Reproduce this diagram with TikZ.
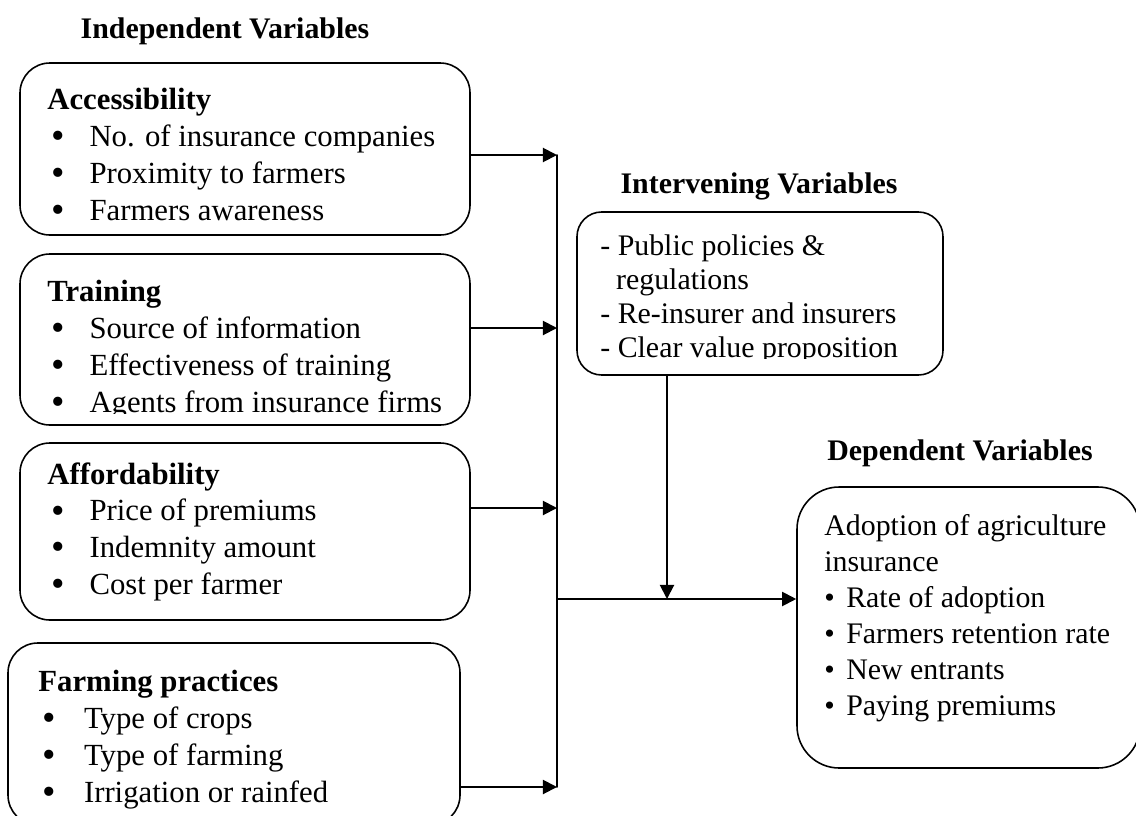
\documentclass[tikz,border=0pt]{standalone}
\usepackage{fontspec}
\setmainfont{Liberation Serif}
\usetikzlibrary{arrows.meta,fit,positioning}
\newcommand{\bdot}{\raisebox{-1.2pt}{\scalebox{1.25}{\textbullet}}}
\newcommand{\bitem}[2][24pt]{\makebox[#1][l]{\hspace*{2.5pt}\bdot}#2}
\newcommand{\ditem}[1]{\makebox[12.5pt][l]{\textbullet}#1}
\tikzset{
  every picture/.style={line cap=round, line join=round},
  every node/.style={font=\fontsize{17.5}{21}\selectfont},
  % Kästen
  box/.style={draw, line width=0.9pt, rounded corners=#1, inner sep=0pt},
  box/.default=17pt,
  txt/.style={anchor=north west, inner sep=0pt, align=left},
  ttl/.style={anchor=base, inner sep=0pt, font=\fontsize{17}{21}\selectfont\bfseries},
  % Verbindungen
  link/.style={line width=1.1pt, -{Triangle[length=8pt,width=8pt]}},
  line/.style={line width=1.1pt},
}
\begin{document}
\begin{tikzpicture}[x=0.02cm, y=-0.02cm]
  \useasboundingbox (0,0) rectangle (1136,815);
  % Überschriften
  \node[ttl] (tind) at (225,38) {Independent Variables};
  \node[ttl] (tint) at (759,193) {Intervening Variables};
  \node[ttl] (tdep) at (960,460) {Dependent Variables};
  % unabhängige Variablen
  \node[box, fit={(20,63) (470,235)}] (acc) {};
  \node[txt] (acctx) at (47,88) {\textbf{Accessibility}\\ \bitem{No. of insurance companies}\\
    \bitem{Proximity to farmers}\\ \bitem{Farmers awareness}};
  \node[box, fit={(20,254) (470,425)}] (trn) {};
  \begin{scope}
    \clip (20,254) rectangle (470,413);
    \node[txt] (trntx) at (47,280) {\textbf{Training}\\ \bitem{Source of information}\\
      \bitem{Effectiveness of training}\\ \bitem{Agents from insurance firms}};
  \end{scope}
  \node[box, fit={(20,443) (470,620)}] (aff) {};
  \node[txt] (afftx) at (47,462) {\textbf{Affordability}\\ \bitem{Price of premiums}\\
    \bitem{Indemnity amount}\\ \bitem{Cost per farmer}};
  \node[box, fit={(8,643) (460,825)}] (frm) {};
  \node[txt] (frmtx) at (38,670) {\textbf{Farming practices}\\ \bitem[26pt]{Type of crops}\\
    \bitem[26pt]{Type of farming}\\ \bitem[26pt]{Irrigation or rainfed}};
  % intervenierende Variablen
  \node[box=14pt, fit={(577,212) (943,375)}] (int) {};
  \begin{scope}
    \clip (577,212) rectangle (943,358);
    \node[txt, font=\fontsize{17}{19.5}\selectfont] (inttx) at (600,234) {- Public policies \&\\
      \hspace*{9pt}regulations\\ - Re-insurer and insurers\\ - Clear value proposition};
  \end{scope}
  % abhängige Variable
  \node[box=24pt, fit={(797,487) (1140,768)}] (dep) {};
  \node[txt, font=\fontsize{17}{20.5}\selectfont] (deptx) at (824,514) {Adoption of agriculture\\ insurance\\
    \ditem{Rate of adoption}\\ \ditem{Farmers retention rate}\\
    \ditem{New entrants}\\ \ditem{Paying premiums}};
  % Sammelschiene
  \coordinate (j1) at (557,155);
  \coordinate (j2) at (557,328);
  \coordinate (j3) at (557,508);
  \coordinate (j4) at (557,787);
  \coordinate (jn) at (557,599);
  \coordinate (mid) at (667,599);
  \draw[link] (acc.east |- j1) -- (j1);
  \draw[link] (trn.east |- j2) -- (j2);
  \draw[link] (aff.east |- j3) -- (j3);
  \draw[link] (frm.east |- j4) -- (j4);
  \draw[line] (j1) -- (j4);
  \draw[link] (jn) -- (dep.west |- jn);
  \draw[link] (int.south -| mid) -- (mid);
\end{tikzpicture}
\end{document}
